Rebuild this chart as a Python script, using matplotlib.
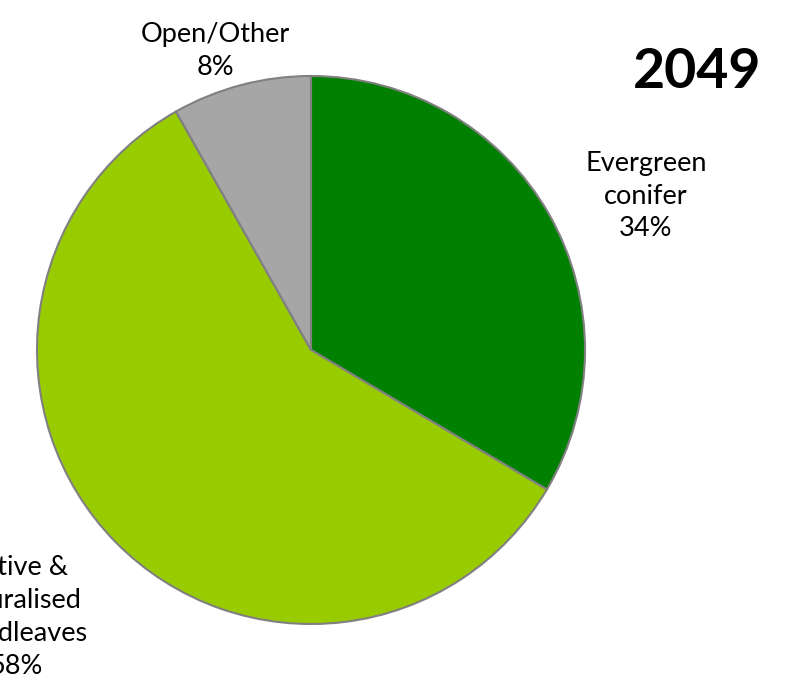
import matplotlib.pyplot as plt

plt.rcParams["font.family"] = ["Lato", "DejaVu Sans"]

# slices, clockwise from 12 o'clock
CATEGORIES = ["Evergreen\nconifer", "Native &\nnaturalised\nbroadleaves", "Open/Other"]
SHARES = [33.5, 58.3, 8.2]
PCT_LABELS = ["34%", "58%", "8%"]
COLORS = ["#008000", "#99CC00", "#A6A6A6"]
YEAR = "2049"

W, H = 795, 687
fig = plt.figure(figsize=(W / 100, H / 100), dpi=100)
ax = fig.add_axes([0, 0, 1, 1])

cx, cy, r = 311, H - 350, 274
ax.pie(
    SHARES,
    colors=COLORS,
    startangle=90,
    counterclock=False,
    center=(cx, cy),
    radius=r,
    wedgeprops=dict(edgecolor="#808080", linewidth=1.5),
)
ax.set_xlim(0, W)
ax.set_ylim(0, H)
ax.set_aspect("equal")
ax.axis("off")

# label positions in pixel coords (x, y from top); the broadleaves label
# runs off the left edge, as in the original
label_pos = [(646, 196), (16, 617), (215, 51)]
for name, pct, (x, y) in zip(CATEGORIES, PCT_LABELS, label_pos):
    ax.text(x, H - y, f"{name}\n{pct}", ha="center", va="center",
            multialignment="center", fontsize=19.5, color="#000000",
            linespacing=1.4)

ax.text(697, H - 72, YEAR, ha="center", va="center", fontsize=40,
        fontweight="bold", color="#000000")

fig.savefig("out.png", dpi=100)
